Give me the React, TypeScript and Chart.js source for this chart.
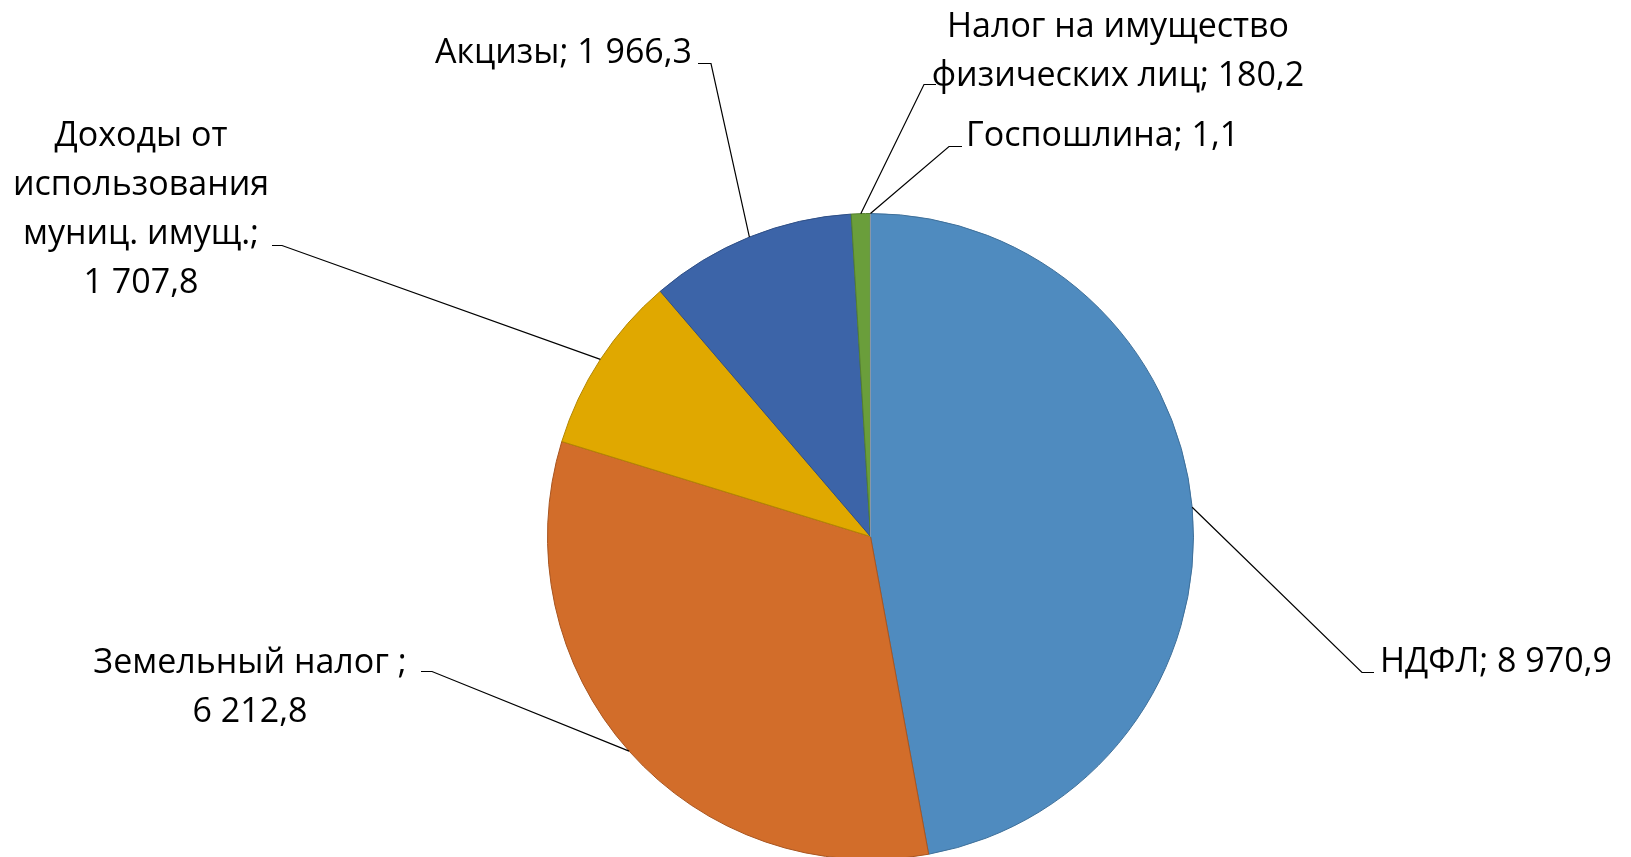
import React, { useEffect, useRef } from "react";
import { Chart, registerables } from "chart.js";

Chart.register(...registerables);

const categories = [
  "НДФЛ",
  "Земельный налог ",
  "Доходы от использования муниц. имущ.",
  "Акцизы",
  "Налог на имущество физических лиц",
  "Госпошлина",
];
const values = [8970.9, 6212.8, 1707.8, 1966.3, 180.2, 1.1];
const valueLabels = ["8 970,9", "6 212,8", "1 707,8", "1 966,3", "180,2", "1,1"];
const labelLines = [
  ["НДФЛ; 8 970,9"],
  ["Земельный налог ;", "6 212,8"],
  ["Доходы от", "использования", "муниц. имущ.;", "1 707,8"],
  ["Акцизы; 1 966,3"],
  ["Налог на имущество", "физических лиц; 180,2"],
  ["Госпошлина; 1,1"],
];

const fillColors = ["#4F8BBF", "#D26D2A", "#E0A800", "#3C64A8", "#6A9E3B", "#A9B9CF"];
const borderColors = ["#3E6F99", "#A85520", "#B38600", "#2F4F86", "#54802E", "#8796AA"];

// label layout: text x, align, first baseline, tick start (elbow) and tick end
const labelLayout = [
  { x: 1380, align: "left", base: 672, elbow: [1362, 672], end: [1374, 672] },
  { x: 250, align: "center", base: 673, elbow: [432, 671], end: [421, 671] },
  { x: 141, align: "center", base: 146, elbow: [282, 245], end: [272, 245] },
  { x: 692, align: "right", base: 63, elbow: [711, 63], end: [698, 63] },
  { x: 1118, align: "center", base: 37, elbow: [924, 84], end: [936, 84] },
  { x: 966, align: "left", base: 146, elbow: [949, 146], end: [962, 146] },
];

const FONT = '34px "Open Sans"';
const LINE_H = 49;

const labelPlugin = {
  id: "leaderLabels",
  afterDraw(chart: any) {
    const ctx = chart.ctx;
    const meta = chart.getDatasetMeta(0);
    ctx.save();
    meta.data.forEach((arc: any, i: number) => {
      const p = arc.getProps(["x", "y", "startAngle", "endAngle", "outerRadius"], true);
      const mid = (p.startAngle + p.endAngle) / 2;
      const ex = p.x + Math.cos(mid) * p.outerRadius;
      const ey = p.y + Math.sin(mid) * p.outerRadius;
      const L = labelLayout[i];
      ctx.strokeStyle = "#000";
      ctx.lineWidth = 1.2;
      ctx.beginPath();
      ctx.moveTo(ex, ey);
      ctx.lineTo(L.elbow[0], L.elbow[1] + 0.5);
      ctx.lineTo(L.end[0], L.end[1] + 0.5);
      ctx.stroke();
      ctx.fillStyle = "#000";
      ctx.font = FONT;
      ctx.textAlign = L.align as CanvasTextAlign;
      ctx.textBaseline = "alphabetic";
      labelLines[i].forEach((line, j) => {
        ctx.fillText(line, L.x, L.base + j * LINE_H);
      });
    });
    ctx.restore();
  },
};

export default function App() {
  const ref = useRef<HTMLCanvasElement | null>(null);
  useEffect(() => {
    document.body.style.margin = "0";
    const canvas = ref.current!;
    const chart = new Chart(canvas, {
      type: "pie",
      data: {
        labels: categories,
        datasets: [
          {
            data: values,
            backgroundColor: fillColors,
            borderColor: borderColors,
            borderWidth: 1,
          },
        ],
      },
      options: {
        animation: false,
        responsive: false,
        devicePixelRatio: 1,
        layout: { padding: { left: 547, right: 437, top: 213, bottom: 10 } },
        plugins: {
          legend: { display: false },
          tooltip: { enabled: false },
        },
      },
      plugins: [labelPlugin],
    });
    return () => chart.destroy();
  }, []);
  return (
    <div style={{ position: "fixed", left: 0, top: 0, width: 1631, height: 857, overflow: "hidden", background: "#fff" }}>
      <canvas ref={ref} width={1631} height={870} style={{ width: 1631, height: 870, display: "block" }} />
    </div>
  );
}
